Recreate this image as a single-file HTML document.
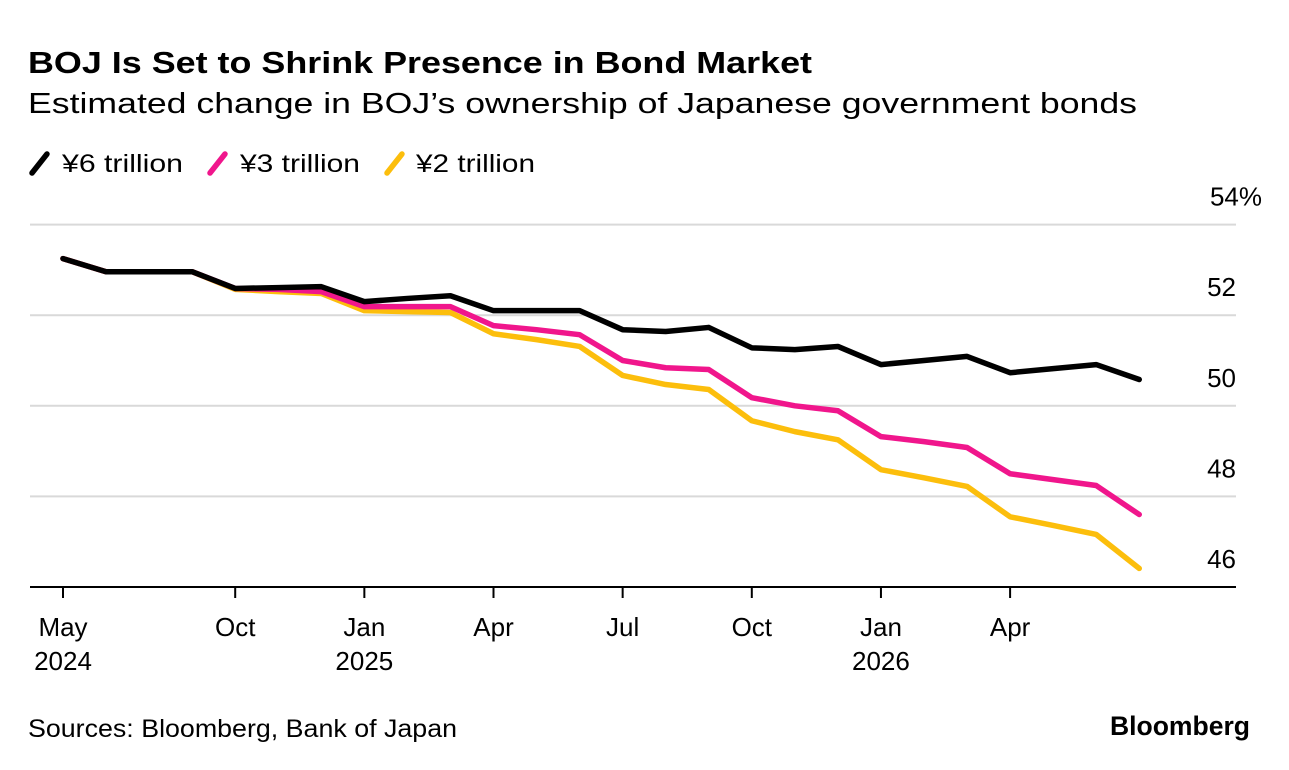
<!DOCTYPE html>
<html><head><meta charset="utf-8">
<style>
body{margin:0;background:#fff;width:1289px;height:770px;overflow:hidden;font-family:"Liberation Sans",sans-serif;color:#000}
svg{position:absolute;left:0;top:0}
</style></head>
<body>
<svg width="1289" height="770">
<text x="28" y="73" font-size="31" font-weight="bold" textLength="784" lengthAdjust="spacingAndGlyphs">BOJ Is Set to Shrink Presence in Bond Market</text>
<text x="28" y="113" font-size="29" textLength="1109" lengthAdjust="spacingAndGlyphs">Estimated change in BOJ’s ownership of Japanese government bonds</text>
<g>
<g><line x1="32" y1="173" x2="47" y2="154" stroke="#000" stroke-width="5.5" stroke-linecap="round"/><text x="62" y="172" font-size="25" textLength="121" lengthAdjust="spacingAndGlyphs">¥6 trillion</text></g>
<g><line x1="210" y1="173" x2="225" y2="154" stroke="#f0168c" stroke-width="5.5" stroke-linecap="round"/><text x="240" y="172" font-size="25" textLength="120" lengthAdjust="spacingAndGlyphs">¥3 trillion</text></g>
<g><line x1="387" y1="173" x2="402" y2="154" stroke="#fcbe0c" stroke-width="5.5" stroke-linecap="round"/><text x="416" y="172" font-size="25" textLength="119" lengthAdjust="spacingAndGlyphs">¥2 trillion</text></g>
</g>
<g id="grid"></g>
<g id="xaxis"></g>
<g id="series"></g>
<text x="28" y="737" font-size="25" textLength="429" lengthAdjust="spacingAndGlyphs">Sources: Bloomberg, Bank of Japan</text>
<text x="1110" y="735" font-size="27" font-weight="bold" textLength="140" lengthAdjust="spacingAndGlyphs">Bloomberg</text>
</svg>
<script>
const yTicks=[46,48,50,52,54];
const yTickLabels=["46","48","50","52","54%"];
const xTickIdx=[0,4,7,10,13,16,19,22];
const xTickLabels=[["May","2024"],["Oct"],["Jan","2025"],["Apr"],["Jul"],["Oct"],["Jan","2026"],["Apr"]];
const s6=[53.25,52.96,52.96,52.96,52.59,52.61,52.63,52.30,52.37,52.43,52.10,52.10,52.10,51.68,51.64,51.73,51.28,51.24,51.31,50.91,51.00,51.09,50.73,50.82,50.91,50.58];
const s3=[53.25,52.96,52.96,52.96,52.59,52.57,52.52,52.19,52.19,52.19,51.77,51.68,51.57,51.00,50.84,50.80,50.18,50.00,49.89,49.32,49.21,49.08,48.50,48.37,48.24,47.60];
const s2=[53.25,52.96,52.96,52.96,52.57,52.52,52.48,52.10,52.08,52.06,51.59,51.46,51.31,50.67,50.47,50.36,49.67,49.43,49.25,48.59,48.41,48.22,47.55,47.36,47.16,46.41];
const NS="http://www.w3.org/2000/svg";
const X=i=>63+i*43.05;
const Y=v=>587-(v-46)*45.3;
const grid=document.getElementById('grid');
yTicks.forEach((t,k)=>{
  if(k>0){const l=document.createElementNS(NS,'line');
  l.setAttribute('x1',30);l.setAttribute('x2',1236);l.setAttribute('y1',Y(t));l.setAttribute('y2',Y(t));
  l.setAttribute('stroke','#d9d9d9');l.setAttribute('stroke-width','2');
  
  
  grid.appendChild(l);}
  const tx=document.createElementNS(NS,'text');
  tx.setAttribute('x',k==4?1262:1236);tx.setAttribute('y',Y(t)-19);
  tx.setAttribute('text-anchor','end');tx.setAttribute('font-size','26');
  tx.textContent=yTickLabels[k];
  
  
  grid.appendChild(tx);
});
const xa=document.getElementById('xaxis');
const base=document.createElementNS(NS,'line');
base.setAttribute('x1',30);base.setAttribute('x2',1236);base.setAttribute('y1',587);base.setAttribute('y2',587);
base.setAttribute('stroke','#000');base.setAttribute('stroke-width','2');


xa.appendChild(base);
xTickIdx.forEach((i,k)=>{
  const l=document.createElementNS(NS,'line');
  l.setAttribute('x1',X(i));l.setAttribute('x2',X(i));l.setAttribute('y1',587);l.setAttribute('y2',598);
  l.setAttribute('stroke','#000');l.setAttribute('stroke-width','2');
  
  
  xa.appendChild(l);
  xTickLabels[k].forEach((s,j)=>{
    const t=document.createElementNS(NS,'text');
    t.setAttribute('x',X(i));t.setAttribute('y',636+j*34);
    t.setAttribute('text-anchor','middle');t.setAttribute('font-size','26');
    t.textContent=s;
    
    
    xa.appendChild(t);
  });
});
const sg=document.getElementById('series');
[[s2,'#fcbe0c','series-2trillion'],[s3,'#f0168c','series-3trillion'],[s6,'#000','series-6trillion']].forEach(([d,c,n])=>{
  const p=document.createElementNS(NS,'polyline');
  p.setAttribute('points',d.map((v,i)=>X(i)+','+Y(v)).join(' '));
  p.setAttribute('fill','none');p.setAttribute('stroke',c);p.setAttribute('stroke-width','5.5');
  p.setAttribute('stroke-linejoin','round');p.setAttribute('stroke-linecap','round');
  
  
  sg.appendChild(p);
});
</script>
</body></html>
